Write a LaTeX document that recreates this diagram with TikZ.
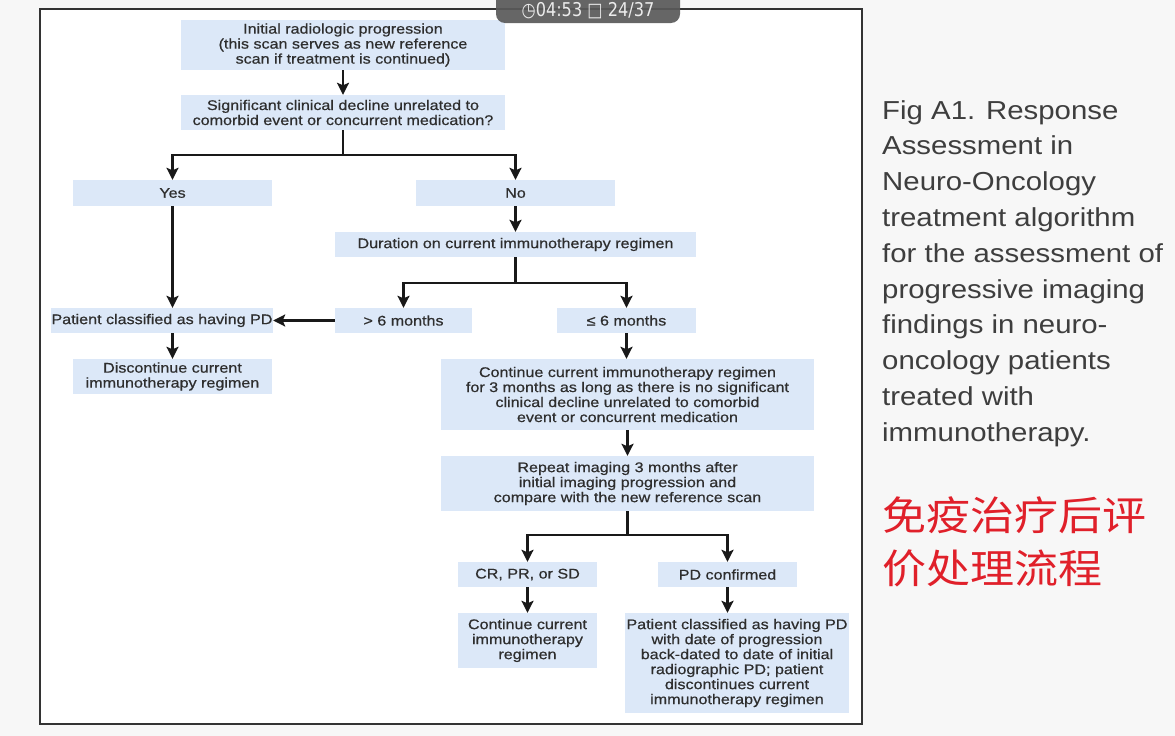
\documentclass[tikz,border=0pt]{standalone}
\usepackage{fontspec}
\setmainfont{Liberation Sans}
\newfontfamily\boxfont[FakeStretch=1.15, FakeBold=0.6]{Liberation Sans}
\newfontfamily\capfont[FakeStretch=1.13]{Liberation Sans}
\newfontfamily\cjk[FakeStretch=1.1]{Noto Sans CJK SC}
\newfontfamily\symfont[FakeStretch=0.85]{DejaVu Sans}
\usetikzlibrary{arrows.meta}
\definecolor{boxblue}{HTML}{DCE8F8}
\definecolor{captiongray}{HTML}{3E3E3E}
\definecolor{cjkred}{HTML}{E0202A}

\begin{document}
\begin{tikzpicture}[
    x=1pt, y=-1pt,
    box/.style={fill=boxblue, text=black!82, align=center, inner sep=0pt,
        font=\boxfont\fontsize{14}{15}\selectfont},
    link/.style={line width=2.6pt, black!90},
    >={Stealth[length=12pt, width=12pt, inset=2.5pt]}]

    \useasboundingbox (0,0) rectangle (1175,736);
    \fill[black!3] (0,0) rectangle (1175,736);
    \fill[white] (40,9) rectangle (862,724);
    \draw[line width=2.6pt, black!80] (40,9) rectangle (862,724);

    % horni cast: progrese a klinicky stav
    \node[box, minimum width=324, minimum height=50] (initial) at (343,45) {Initial radiologic progression\\(this scan serves as new reference\\scan if treatment is continued)};
    \node[box, minimum width=324, minimum height=35] (decline) at (343,112.5) {Significant clinical decline unrelated to\\comorbid event or concurrent medication?};
    \node[box, minimum width=199, minimum height=26] (yes) at (172.5,193) {Yes};
    \node[box, minimum width=199, minimum height=26] (no) at (515.5,193) {No};
    \node[box, minimum width=361, minimum height=25] (duration) at (515.5,244.5) {Duration on current immunotherapy regimen};

    % delka imunoterapie
    \node[box, minimum width=137, minimum height=25] (over6) at (403.5,320.5) {> 6 months};
    \node[box, minimum width=139, minimum height=25] (upto6) at (626.5,320.5) {≤ 6 months};
    \node[box, minimum width=222, minimum height=25] (pd) at (162,320.5) {Patient classified as having PD};
    \node[box, minimum width=199, minimum height=35] (stop) at (172.5,376.5) {Discontinue current\\immunotherapy regimen};
    \node[box, minimum width=373, minimum height=71] (contin) at (627.5,394.5) {Continue current immunotherapy regimen\\for 3 months as long as there is no significant\\clinical decline unrelated to comorbid\\event or concurrent medication};
    \node[box, minimum width=373, minimum height=55] (repeat) at (627.5,483.5) {Repeat imaging 3 months after\\initial imaging progression and\\compare with the new reference scan};

    % vysledek kontrolniho snimku
    \node[box, minimum width=139, minimum height=25] (crsd) at (527.5,574.5) {CR, PR, or SD};
    \node[box, minimum width=139, minimum height=25] (pdconf) at (727.5,574.5) {PD confirmed};
    \node[box, minimum width=139, minimum height=55] (keep) at (527.5,640.5) {Continue current\\immunotherapy\\regimen};
    \node[box, minimum width=224, minimum height=100] (backdate) at (737,663) {Patient classified as having PD\\with date of progression\\back-dated to date of initial\\radiographic PD; patient\\discontinues current\\immunotherapy regimen};

    % spojnice
    \coordinate (fork1) at (343,155);
    \coordinate (fork2) at (515.5,283);
    \coordinate (fork3) at (627.5,535);
    \draw[link, ->] (initial) -- (decline);
    \draw[link, ->] (decline.south) -- (fork1) -| (yes.north);
    \draw[link, ->] (fork1) -| (no.north);
    \draw[link, ->] (no) -- (duration);
    \draw[link, ->] (duration.south) -- (fork2) -| (over6.north);
    \draw[link, ->] (fork2) -| (upto6.north);
    \draw[link, ->] (over6) -- (pd);
    \draw[link, ->] (yes.south) -- (yes.south |- pd.north);
    \draw[link, ->] (stop.north |- pd.south) -- (stop.north);
    \draw[link, ->] (upto6.south) -- (upto6.south |- contin.north);
    \draw[link, ->] (contin) -- (repeat);
    \draw[link, ->] (repeat.south) -- (fork3) -| (crsd.north);
    \draw[link, ->] (fork3) -| (pdconf.north);
    \draw[link, ->] (crsd) -- (keep);
    \draw[link, ->] (pdconf.south) -- (pdconf.south |- backdate.north);

    % popisek vpravo
    \node[anchor=north west, inner sep=0pt, align=left, text=captiongray,
        font=\capfont\fontsize{26}{35.8}\selectfont] (caption) at (882,100)
        {Fig A1. Response\\Assessment in\\Neuro-Oncology\\treatment algorithm\\for the assessment of\\progressive imaging\\findings in neuro-\\oncology patients\\treated with\\immunotherapy.};
    \node[anchor=north west, inner sep=0pt, align=left, text=cjkred,
        font=\cjk\fontsize{40}{53}\selectfont] (cjknote) at (882,496)
        {免疫治疗后评\\价处理流程};

    % lista prehravace
    \fill[black!65, opacity=0.92, rounded corners=9pt] (496,-12) rectangle (680,23);
    \node[text=white!92!black, font=\symfont\fontsize{19}{20}\selectfont, inner sep=0pt] (player) at (588,11) {◷04:53 □ 24/37};
\end{tikzpicture}
\end{document}
